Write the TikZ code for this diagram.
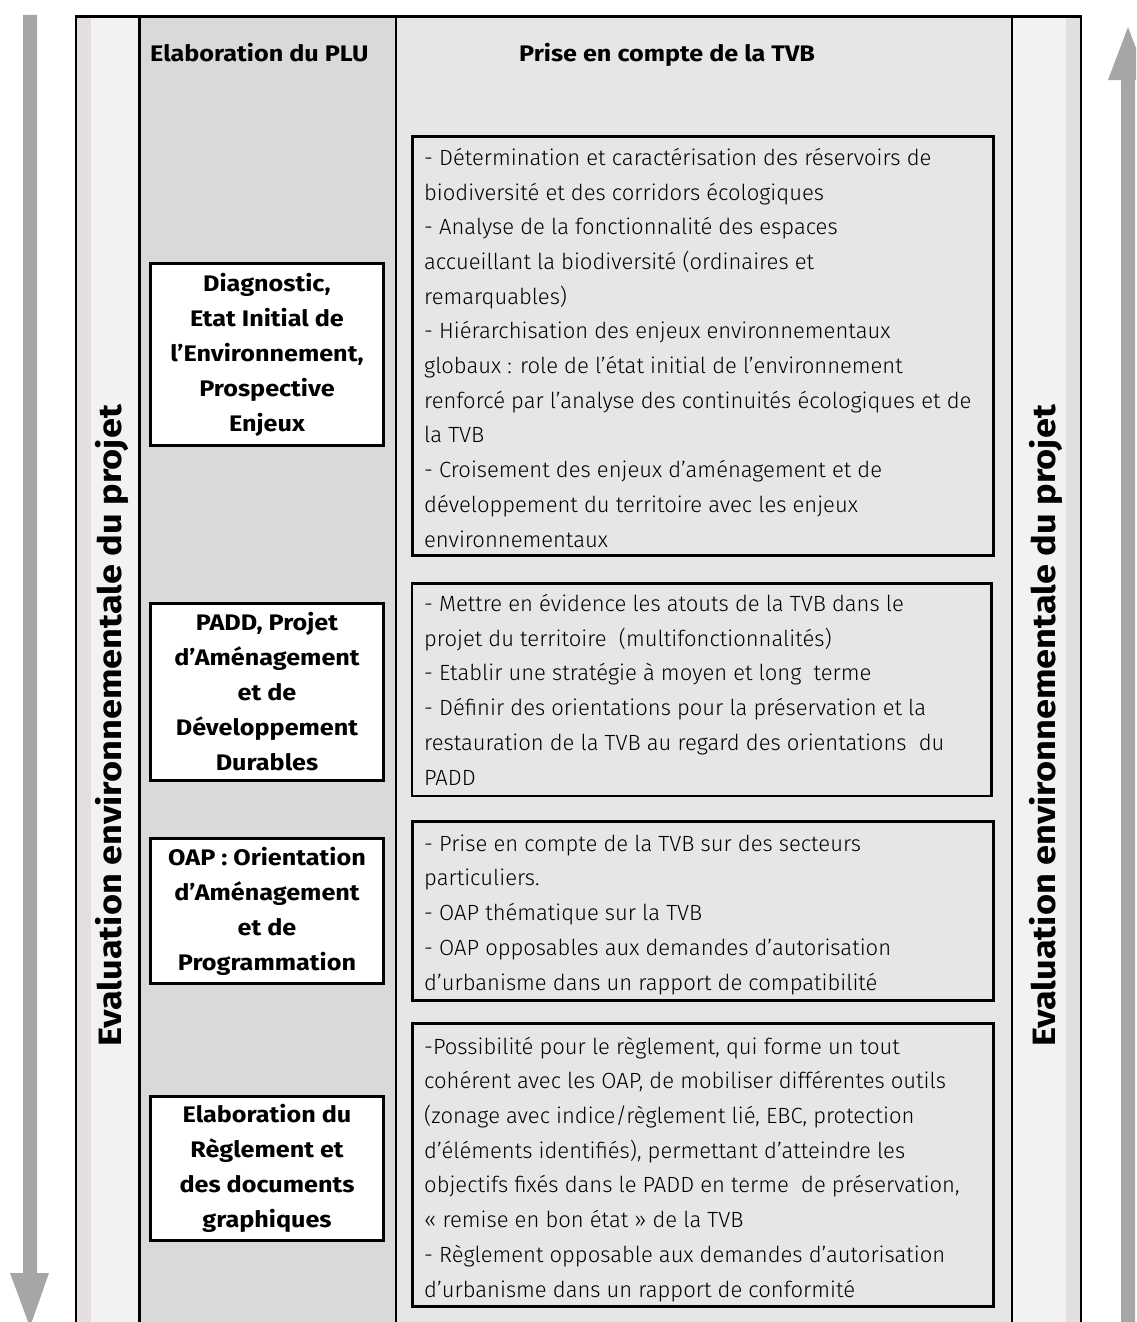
\documentclass[tikz,border=0pt]{standalone}
\usepackage{fontspec}
\setmainfont{Fira Sans Light}[BoldFont={Fira Sans Bold},BoldFeatures={FakeStretch=1.12}]
\definecolor{arrowgrey}{HTML}{A6A6A6}
\definecolor{bandpink}{HTML}{E3DFDF}
\definecolor{bandlight}{HTML}{F2F2F2}
\definecolor{plugrey}{HTML}{D9D9D9}
\definecolor{tvbgrey}{HTML}{E6E6E6}
\begin{document}
\begin{tikzpicture}[x=1pt,y=-1pt,
  frameline/.style={line width=2.8pt,black},
  plubox/.style={draw,line width=2.8pt,fill=white,inner sep=0pt,align=center,
    font=\bfseries\fontsize{22.5}{35}\selectfont},
  tvbbox/.style={draw,line width=2.8pt,inner sep=0pt},
  tvbtext/.style={anchor=base west,inner sep=0pt,align=left,
    font=\fontsize{22}{34.7}\selectfont},
  header/.style={anchor=base west,inner sep=0pt,font=\bfseries\fontsize{22.5}{35}\selectfont},
  evaltext/.style={rotate=90,inner sep=0pt,font=\bfseries\fontsize{32.3}{35}\selectfont}]
\useasboundingbox (0,0) rectangle (1136,1322);
\clip (0,0) rectangle (1136,1322);
% column backgrounds
\fill[bandpink]  (75,15) rectangle (91,1330);
\fill[bandlight] (91,15) rectangle (139,1330);
\fill[plugrey]   (139,15) rectangle (396,1330);
\fill[tvbgrey]   (396,15) rectangle (1012,1330);
\fill[bandlight] (1012,15) rectangle (1066,1330);
\fill[bandpink]  (1066,15) rectangle (1082,1330);
% frame and column lines
\draw[frameline] (76,1330) -- (76,16.4) -- (1081,16.4) -- (1081,1330);
\draw[frameline] (139.5,16) -- (139.5,1330);
\draw[frameline] (396,16) -- (396,1330);
\draw[frameline] (1012,16) -- (1012,1330);
% arrows
\fill[arrowgrey] (23,15) -- (37,15) -- (37,1273) -- (49,1273) -- (30,1327) -- (10,1273) -- (23,1273) -- cycle;
\fill[arrowgrey] (1121,1330) -- (1121,80) -- (1108,80) -- (1128,27) -- (1148,80) -- (1135,80) -- (1135,1330) -- cycle;
% headers
\node[header] (hplu) at (150,62) {Elaboration du PLU};
\node[header] (htvb) at (519,62) {Prise en compte de la TVB};
% vertical labels
\node[evaltext] (evalL) at (112,726) {Evaluation environnementale du projet};
\node[evaltext] (evalR) at (1046,726) {Evaluation environnementale du projet};
% PLU boxes
\node[plubox,minimum width=233pt,minimum height=182pt] (plu1) at (267,354.5)
  {Diagnostic,\\Etat Initial de\\l’Environnement,\\Prospective\\Enjeux};
\node[plubox,minimum width=233pt,minimum height=177pt] (plu2) at (267,692)
  {PADD, Projet\\d’Aménagement\\et de\\Développement\\Durables};
\node[plubox,minimum width=233pt,minimum height=145pt] (plu3) at (267,911)
  {OAP : Orientation\\d’Aménagement\\et de\\Programmation};
\node[plubox,minimum width=233pt,minimum height=144pt] (plu4) at (267,1168.5)
  {Elaboration du\\Règlement et\\des documents\\graphiques};
% TVB boxes
\node[tvbbox,minimum width=581pt,minimum height=419pt] (tvb1) at (703,346) {};
\node[tvbbox,minimum width=579.5pt,minimum height=212.5pt] (tvb2) at (701.75,689.75) {};
\node[tvbbox,minimum width=581pt,minimum height=179pt] (tvb3) at (703,911) {};
\node[tvbbox,minimum width=581pt,minimum height=283pt] (tvb4) at (703,1165) {};
% TVB texts (anchored at the baseline of their last line)
\node[tvbtext] (t1) at (424,547) {- Détermination et caractérisation des réservoirs de\\
biodiversité et des corridors écologiques\\
- Analyse de la fonctionnalité des espaces\\
accueillant la biodiversité (ordinaires et\\
remarquables)\\
- Hiérarchisation des enjeux environnementaux\\
globaux : role de l’état initial de l’environnement\\
renforcé par l’analyse des continuités écologiques et de\\
la TVB\\
- Croisement des enjeux d’aménagement et de\\
développement du territoire avec les enjeux\\
environnementaux};
\node[tvbtext] (t2) at (424,785) {- Mettre en évidence les atouts de la TVB dans le\\
projet du territoire\ \ (multifonctionnalités)\\
- Etablir une stratégie à moyen et long\ \ terme\\
- Définir des orientations pour la préservation et la\\
restauration de la TVB au regard des orientations\ \ du\\
PADD};
\node[tvbtext] (t3) at (424,990) {- Prise en compte de la TVB sur des secteurs\\
particuliers.\\
- OAP thématique sur la TVB\\
- OAP opposables aux demandes d’autorisation\\
d’urbanisme dans un rapport de compatibilité};
\node[tvbtext] (t4) at (424,1297) {-Possibilité pour le règlement, qui forme un tout\\
cohérent avec les OAP, de mobiliser différentes outils\\
(zonage avec indice/règlement lié, EBC, protection\\
d’éléments identifiés), permettant d’atteindre les\\
objectifs fixés dans le PADD en terme\ \ de préservation,\\
« remise en bon état » de la TVB\\
- Règlement opposable aux demandes d’autorisation\\
d’urbanisme dans un rapport de conformité};
\end{tikzpicture}
\end{document}
